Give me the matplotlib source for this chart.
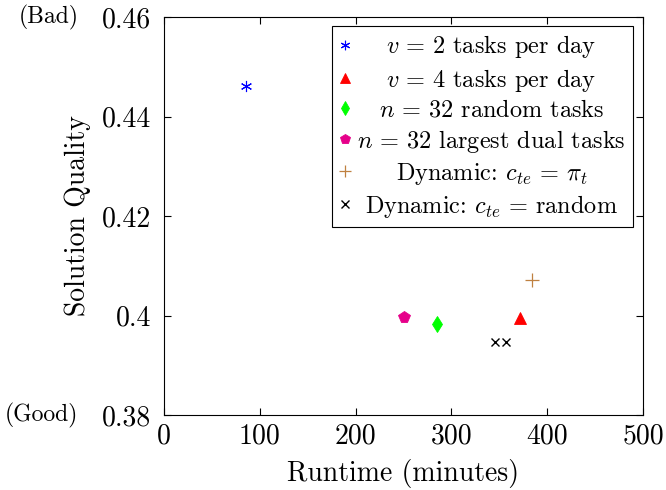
import numpy as np
import matplotlib.pyplot as plt
from matplotlib.transforms import Affine2D, blended_transform_factory

plt.rcParams['font.family'] = 'serif'
plt.rcParams['font.serif'] = ['cmr10']
plt.rcParams['mathtext.fontset'] = 'cm'
plt.rcParams['axes.formatter.use_mathtext'] = True

# data (runtime in minutes, solution quality)
labels = [r"$v\,=\,2$ tasks per day",
          r"$v\,=\,4$ tasks per day",
          r"$n\,=\,32$ random tasks",
          r"$n\,=\,32$ largest dual tasks",
          r"Dynamic: $c_{te}\,=\,\pi_t$",
          r"Dynamic: $c_{te}\,=\,$random"]
runtime = [[86], [372], [285], [251], [384], [346, 357]]
quality = [[0.4461], [0.3995], [0.3983], [0.3998], [0.4071], [0.3947, 0.3947]]

markers = [(6, 2, 0), '^', 'd', 'p', '+', 'x']
colors = ['#0000ff', '#ff0000', '#00ff00', '#e6008a', '#bf8040', '#000000']
sizes = [8, 8, 8, 8.5, 10, 6]
edgew = [0.8, 0.6, 0.6, 0.6, 0.9, 1.0]

xticks = [0, 100, 200, 300, 400, 500]
yticks = [0.38, 0.40, 0.42, 0.44, 0.46]
yticklabels = ["0.38", "0.4", "0.42", "0.44", "0.46"]

fig = plt.figure(figsize=(6.66, 4.9), dpi=100)
ax = fig.add_axes([0.246, 0.153, 0.7195, 0.8123])

for i in range(len(labels)):
    ax.plot(runtime[i], quality[i], linestyle='none', marker=markers[i],
            color=colors[i], markersize=sizes[i], markeredgewidth=edgew[i],
            label=labels[i])

ax.set_xlim(0, 500)
ax.set_ylim(0.38, 0.46)
ax.set_xticks(xticks)
ax.set_xticklabels([str(t) for t in xticks])
ax.set_yticks(yticks)
ax.set_yticklabels(yticklabels)
ax.tick_params(direction='in', top=True, right=True, labelsize=20, length=5, width=0.8)
ax.tick_params(axis='y', pad=9)
ax.tick_params(axis='x', pad=6)
for s in ax.spines.values():
    s.set_linewidth(0.8)

ax.set_xlabel("Runtime (minutes)", fontsize=20, labelpad=7)
ax.set_ylabel("Solution Quality", fontsize=20, labelpad=8)

tr = blended_transform_factory(ax.transAxes, ax.transData)
ax.text(-0.178, 0.46, "(Bad)", transform=tr, fontsize=17, ha='right', va='center')
ax.text(-0.178, 0.38, "(Good)", transform=tr, fontsize=17, ha='right', va='center')

leg = ax.legend(loc='upper right', bbox_to_anchor=(0.979, 0.977), borderaxespad=0,
                fontsize=17.5, frameon=True, fancybox=False, framealpha=1,
                edgecolor='black', handlelength=0.5, handletextpad=0.25,
                labelspacing=0.25, borderpad=0.3, numpoints=1, markerscale=0.85)
leg.get_frame().set_linewidth(0.8)

# center legend texts within their column, like pgfplots
fig.canvas.draw()
r = fig.canvas.get_renderer()
widths = [t.get_window_extent(r).width for t in leg.get_texts()]
wmax = max(widths)
for t, w in zip(leg.get_texts(), widths):
    t.set_transform(t.get_transform() + Affine2D().translate((wmax - w) / 2, 0))

fig.savefig("out.png", dpi=100)
